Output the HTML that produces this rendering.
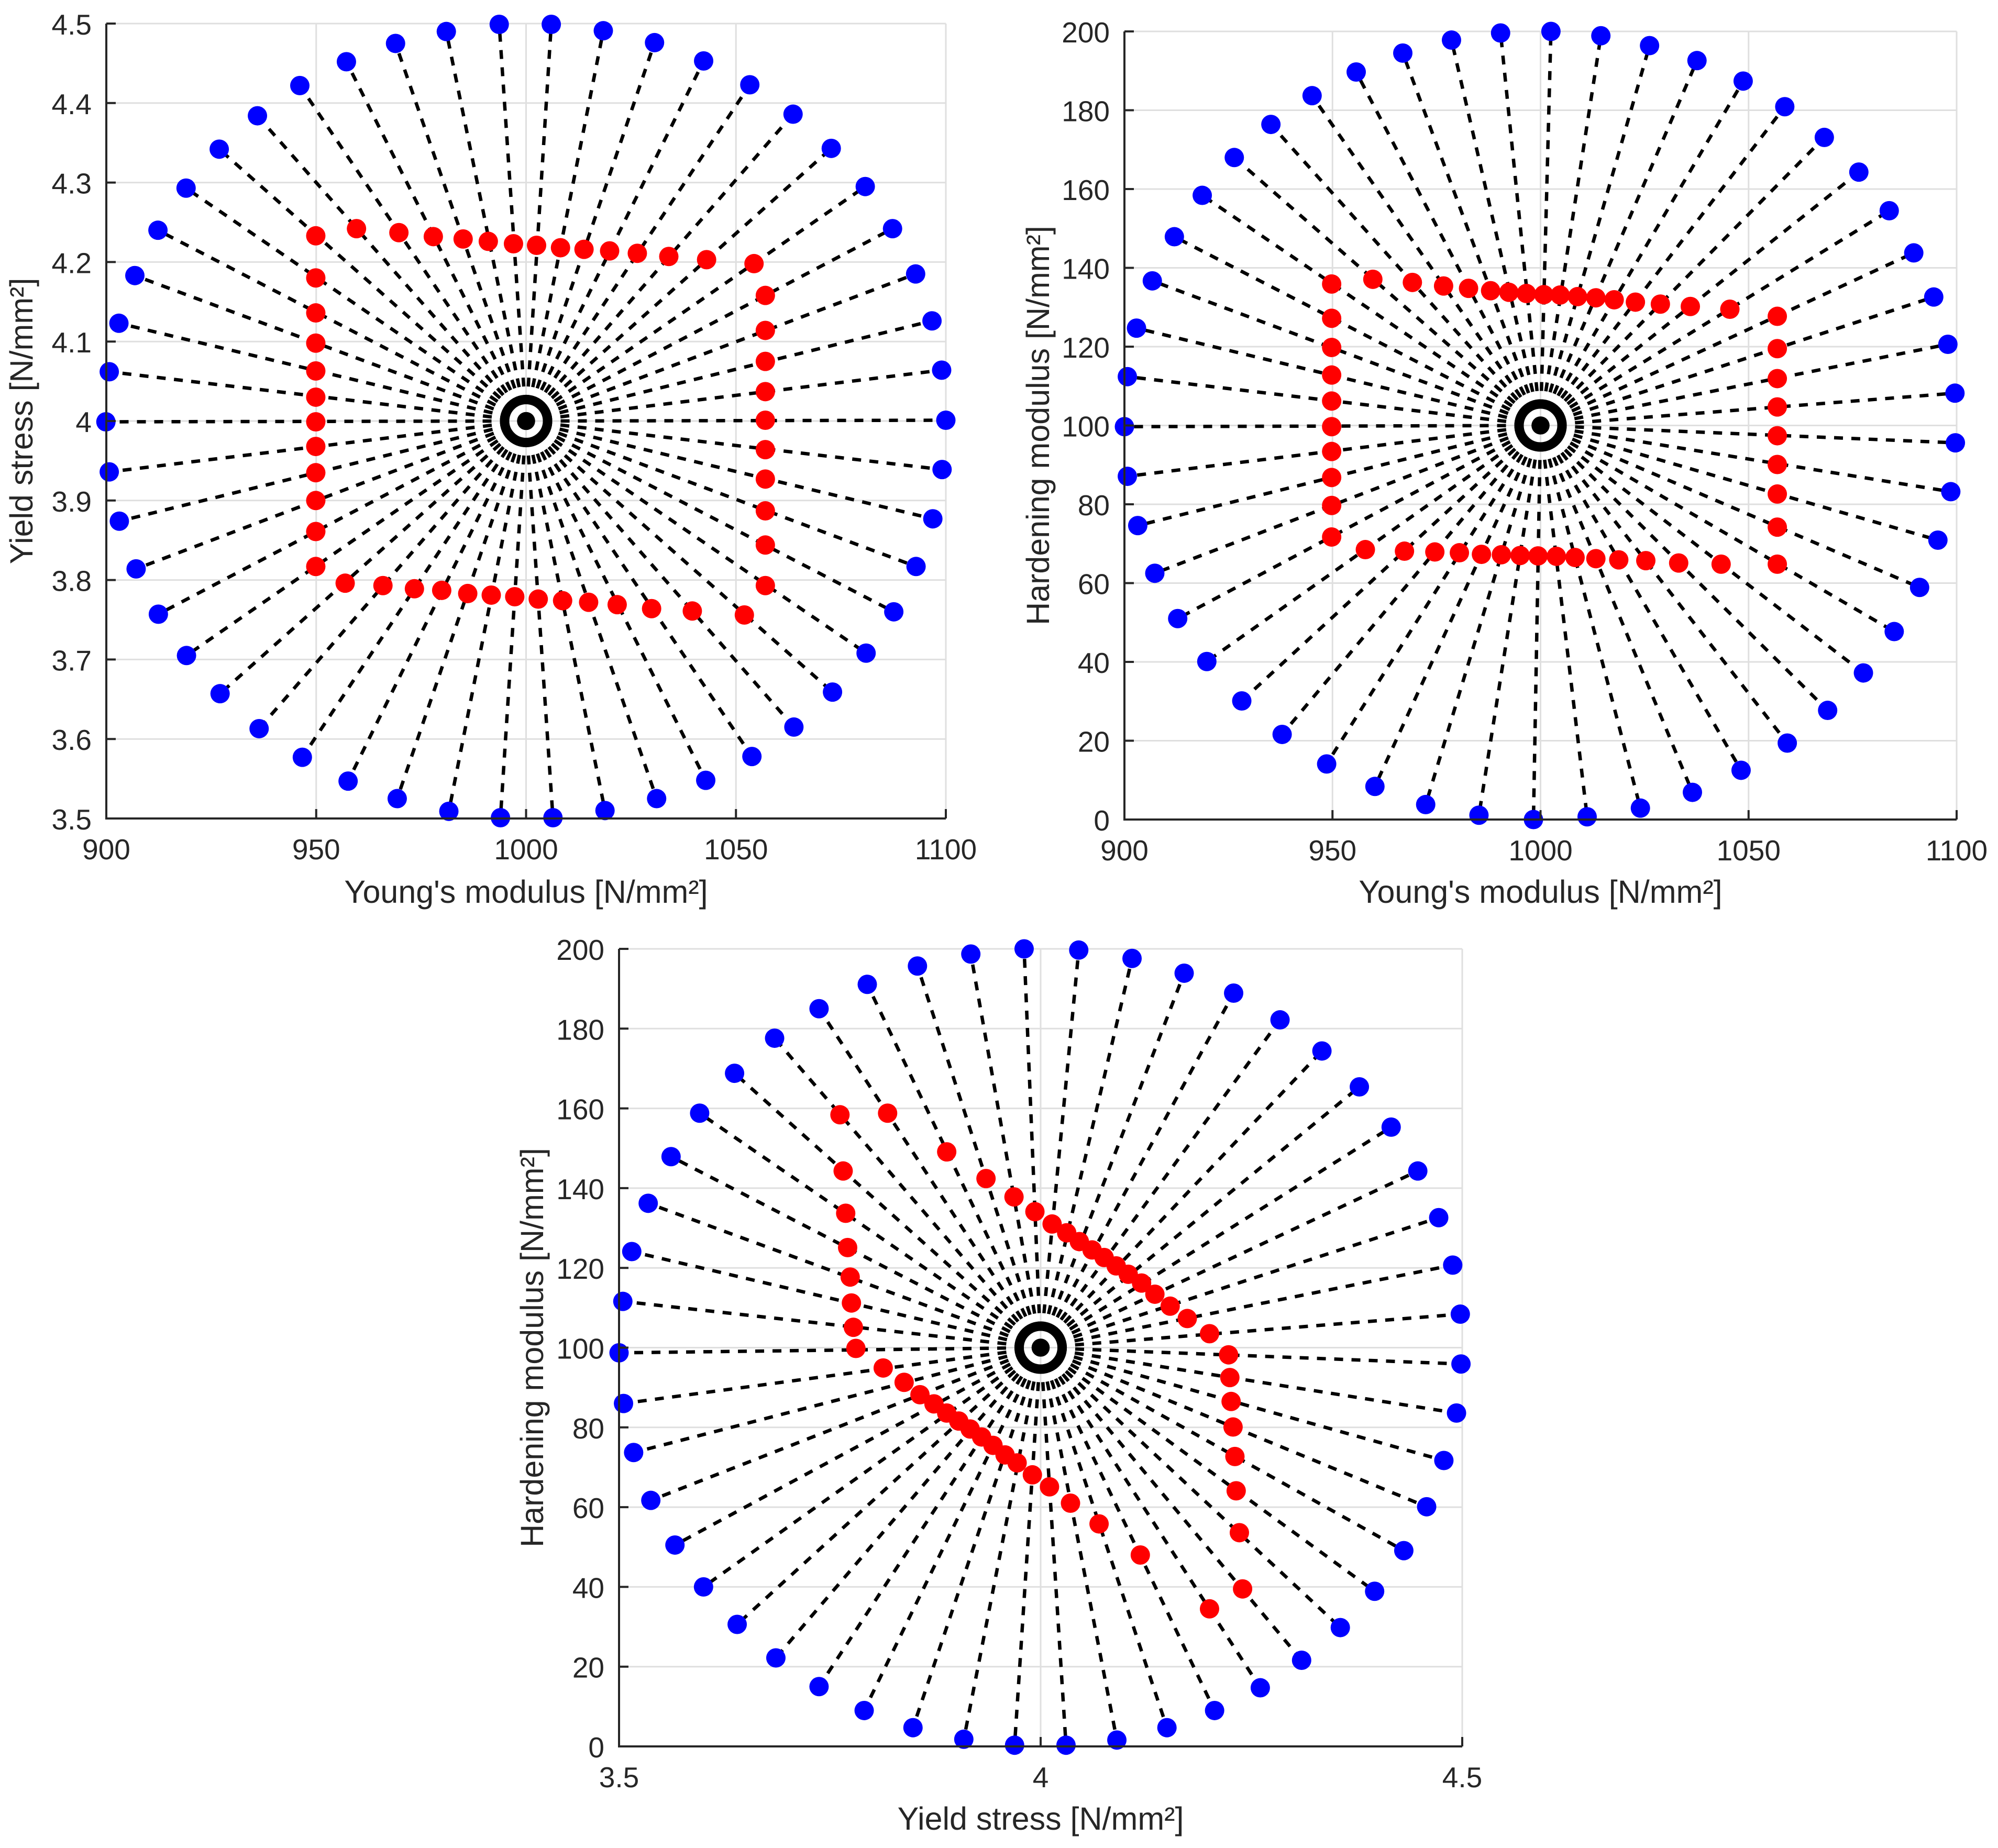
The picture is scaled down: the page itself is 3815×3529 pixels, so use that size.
<!DOCTYPE html>
<html><head><meta charset="utf-8"><title>Parameter rays</title>
<style>
html,body{margin:0;padding:0;background:#fff;}
svg{display:block;}
text{font-family:"Liberation Sans",Arial,sans-serif;fill:#262626;}
</style></head>
<body>
<svg id="fig" width="3815" height="3529" viewBox="0 0 3815 3529" xmlns="http://www.w3.org/2000/svg"></svg>
<script>
// ---------- Plot 1: Young's modulus vs Yield stress ----------
const p1BlueX = [1100.0,1099.0,1096.7,1092.8,1087.3,1080.8,1072.7,1063.6,1053.3,1042.3,1030.6,1018.4,1006.0,993.6,981.0,968.9,957.2,946.1,936.0,926.9,919.0,912.3,906.8,903.0,900.7,899.9,900.7,903.1,907.1,912.4,919.1,927.1,936.4,946.7,957.6,969.3,981.6,993.9,1006.4,1018.8,1031.1,1042.8,1053.8,1063.8,1073.0,1081.0,1087.6,1092.9,1096.9,1099.1];
const p1BlueY = [4.001,4.064,4.126,4.185,4.242,4.295,4.343,4.386,4.423,4.453,4.476,4.491,4.499,4.499,4.490,4.475,4.452,4.422,4.384,4.342,4.293,4.240,4.183,4.123,4.062,3.999,3.936,3.874,3.814,3.757,3.705,3.657,3.613,3.577,3.547,3.525,3.509,3.501,3.501,3.510,3.525,3.548,3.578,3.615,3.659,3.708,3.760,3.817,3.877,3.939];
const p1RedX = [949.9,959.6,969.7,977.9,985.0,991.0,997.0,1002.5,1008.2,1013.8,1019.9,1026.5,1034.0,1043.0,1054.3,
  949.9,949.9,949.9,949.9,949.9,949.9,949.9,949.9,949.9,949.9,949.9,
  956.9,965.9,973.4,979.9,986.1,991.7,997.3,1002.9,1008.7,1014.9,1021.7,1029.9,1039.6,1052.0,
  1057.0,1057.0,1057.0,1057.0,1057.0,1057.0,1057.0,1057.0,1057.0,1057.0];
const p1RedY = [4.233,4.242,4.237,4.232,4.229,4.226,4.223,4.221,4.218,4.216,4.214,4.211,4.207,4.203,4.198,
  4.180,4.136,4.098,4.063,4.030,3.999,3.968,3.935,3.900,3.861,3.817,
  3.796,3.793,3.789,3.787,3.783,3.781,3.779,3.776,3.774,3.772,3.769,3.764,3.761,3.756,
  4.158,4.114,4.075,4.037,4.001,3.964,3.927,3.887,3.844,3.793];
const p1Center = [1000, 4];
const p1XTicks = [900,950,1000,1050,1100];
const p1XTickLabels = ["900","950","1000","1050","1100"];
const p1YTicks = [3.5,3.6,3.7,3.8,3.9,4.0,4.1,4.2,4.3,4.4,4.5];
const p1YTickLabels = ["3.5","3.6","3.7","3.8","3.9","4","4.1","4.2","4.3","4.4","4.5"];

// ---------- Plot 2: Young's modulus vs Hardening modulus ----------
const p2BlueX = [900,900.7,902.9,906.7,912.0,918.7,926.4,935.2,945.1,955.7,966.9,978.6,990.4,1002.5,1014.5,1026.2,1037.6,1048.7,1058.7,1068.2,1076.5,1083.8,1089.7,1094.5,1097.9,1099.6,1099.7,1098.6,1095.5,1091.1,1085.0,1077.6,1069.0,1059.3,1048.2,1036.5,1024.0,1011.2,998.3,985.2,972.4,960.2,948.6,937.9,928.2,919.8,912.8,907.3,903.2,900.7];
const p2BlueY = [99.7,112.4,124.7,136.7,147.9,158.4,168.0,176.4,183.7,189.7,194.5,197.8,199.6,200,198.9,196.4,192.6,187.4,180.9,173.1,164.3,154.5,143.8,132.6,120.6,108.2,95.6,83.2,70.9,58.9,47.7,37.2,27.7,19.4,12.5,6.9,2.9,0.7,0,1.1,3.8,8.4,14.1,21.6,30.1,40.1,51.0,62.5,74.6,87.1];
const p2RedX = [949.8,959.7,969.2,976.7,982.7,988.0,992.4,996.6,1000.8,1004.7,1008.9,1013.3,1017.7,1022.8,1028.8,1036.0,1045.5,1056.9,
  949.8,949.8,949.8,949.8,949.8,949.8,949.8,949.8,949.8,
  1056.9,1056.9,1056.9,1056.9,1056.9,1056.9,1056.9,1056.9,
  957.9,967.3,974.6,980.5,985.8,990.6,995.1,999.4,1003.8,1008.3,1013.3,1018.8,1025.3,1033.2,1043.4];
const p2RedY = [135.9,137.1,136.3,135.4,134.8,134.2,133.8,133.5,133.2,133.1,132.7,132.4,131.9,131.3,130.8,130.2,129.5,127.7,
  127.2,119.8,112.8,106.2,99.7,93.4,86.8,79.7,71.7,
  119.5,111.9,104.7,97.4,90.1,82.6,74.2,64.8,
  68.5,68.1,67.9,67.7,67.3,67.2,67.0,66.9,66.8,66.5,66.2,65.9,65.7,65.1,64.8];
const p2Center = [1000, 100];
const p2XTicks = [900,950,1000,1050,1100];
const p2XTickLabels = ["900","950","1000","1050","1100"];
const p2YTicks = [0,20,40,60,80,100,120,140,160,180,200];
const p2YTickLabels = ["0","20","40","60","80","100","120","140","160","180","200"];

// ---------- Plot 3: Yield stress vs Hardening modulus ----------
const p3BlueX = [3.500,3.5045,3.5151,3.5346,3.5617,3.5956,3.6370,3.6845,3.7372,3.7944,3.8539,3.9172,3.9804,4.0452,4.1084,4.1702,4.2289,4.2839,4.3336,4.3780,4.4157,4.4473,4.4721,4.4887,4.4977,4.4985,4.4932,4.4782,4.4578,4.4307,4.3961,4.3554,4.3095,4.2605,4.2063,4.1498,4.0904,4.0301,3.9691,3.9089,3.8486,3.7907,3.7372,3.6860,3.6401,3.6002,3.5663,3.5377,3.5173,3.5053];
const p3BlueY = [98.7,111.6,124.1,136.2,147.9,158.8,168.8,177.6,185.0,191.1,195.7,198.7,200,199.7,197.6,193.9,188.9,182.2,174.4,165.4,155.3,144.3,132.6,120.7,108.4,95.9,83.6,71.7,60.1,49.1,38.9,29.8,21.6,14.7,9.0,4.7,1.6,0.3,0.3,1.8,4.7,9.0,15.0,22.2,30.6,40.0,50.5,61.7,73.7,86.0];
const p3RedX = [3.7620,3.8185,3.8886,3.9352,3.9684,3.9932,4.0136,4.0309,4.0459,4.0610,4.0753,4.0896,4.1039,4.1197,4.1355,4.1536,4.1739,4.2003,
  4.2229,4.2244,4.2259,4.2282,4.2304,4.2319,4.2357,4.2395,
  4.2003,4.1182,4.0693,4.0354,4.0105,3.9902,3.9721,3.9578,3.9435,3.9300,3.9164,3.9029,3.8886,3.8735,3.8569,3.8381,3.8133,
  3.7809,3.7779,3.7756,3.7741,3.7711,3.7688,3.7658];
const p3RedY = [158.4,158.8,149.1,142.4,137.8,134.1,131.0,128.8,126.6,124.5,122.6,120.5,118.4,116.2,113.4,110.4,107.3,103.5,
  98.2,92.5,86.5,80.1,72.7,64.1,53.6,39.5,
  34.5,48.0,55.8,61.0,65.1,68.1,71.1,73.1,75.5,77.6,79.6,81.6,83.6,85.9,88.2,91.3,94.9,
  99.8,105.1,111.2,117.7,125.1,133.7,144.3];
const p3Center = [4, 100];
const p3XTicks = [3.5,4,4.5];
const p3XTickLabels = ["3.5","4","4.5"];
const p3YTicks = [0,20,40,60,80,100,120,140,160,180,200];
const p3YTickLabels = ["0","20","40","60","80","100","120","140","160","180","200"];

const NS = "http://www.w3.org/2000/svg";
const fig = document.getElementById('fig');
function mk(tag, attrs, parent){
  const e = document.createElementNS(NS, tag);
  for (const k in attrs) e.setAttribute(k, attrs[k]);
  (parent||fig).appendChild(e);
  return e;
}

function drawPlot(cfg){
  const g = mk('g', {});
  
  
  const sx = v => cfg.x0 + (v - cfg.xmin)/(cfg.xmax - cfg.xmin)*(cfg.x1 - cfg.x0);
  const sy = v => cfg.y1 - (v - cfg.ymin)/(cfg.ymax - cfg.ymin)*(cfg.y1 - cfg.y0);
  cfg.xt.forEach((t,i)=>{
    const l = mk('line',{x1:sx(t),x2:sx(t),y1:cfg.y0,y2:cfg.y1,stroke:'#dfdfdf','stroke-width':3},g);
    
    
  });
  cfg.yt.forEach((t,i)=>{
    const l = mk('line',{x1:cfg.x0,x2:cfg.x1,y1:sy(t),y2:sy(t),stroke:'#dfdfdf','stroke-width':3},g);
    
    
  });
  const [cx, cy] = [sx(cfg.center[0]), sy(cfg.center[1])];
  cfg.bx.forEach((v,i)=>{
    const l = mk('line',{x1:cx,y1:cy,x2:sx(v),y2:sy(cfg.by[i]),stroke:'#000','stroke-width':6.5,'stroke-dasharray':'17 16'},g);
    
    
  });
  cfg.bx.forEach((v,i)=>{
    const c = mk('circle',{cx:sx(v),cy:sy(cfg.by[i]),r:18.5,fill:'#0000ff'},g);
    
    
  });
  cfg.rx.forEach((v,i)=>{
    const c = mk('circle',{cx:sx(v),cy:sy(cfg.ry[i]),r:18.5,fill:'#ff0000'},g);
    
    
  });
  const ring = mk('circle',{cx:cx,cy:cy,r:41,fill:'none',stroke:'#000','stroke-width':18},g);
  
  
  const dot = mk('circle',{cx:cx,cy:cy,r:17,fill:'#000'},g);
  
  
  const ax = mk('path',{d:`M${cfg.x0},${cfg.y0} V${cfg.y1} H${cfg.x1}`,fill:'none',stroke:'#262626','stroke-width':4},g);
  
  
  cfg.xt.forEach((t,i)=>{
    const tk = mk('line',{x1:sx(t),x2:sx(t),y1:cfg.y1,y2:cfg.y1-18,stroke:'#262626','stroke-width':4},g);
    
    
    const tx = mk('text',{x:sx(t),y:cfg.y1+78,'text-anchor':'middle','font-size':55},g);
    tx.textContent = cfg.xl[i];
    
    
  });
  cfg.yt.forEach((t,i)=>{
    const tk = mk('line',{x1:cfg.x0,x2:cfg.x0+18,y1:sy(t),y2:sy(t),stroke:'#262626','stroke-width':4},g);
    
    
    const tx = mk('text',{x:cfg.x0-28,y:sy(t)+21,'text-anchor':'end','font-size':55},g);
    tx.textContent = cfg.yl[i];
    
    
  });
  const xt = mk('text',{x:(cfg.x0+cfg.x1)/2,y:cfg.xlabY,'text-anchor':'middle','font-size':61},g);
  xt.textContent = cfg.xlab;
  
  
  const ym = (cfg.y0+cfg.y1)/2;
  const yt = mk('text',{x:cfg.ylabX,y:ym,'text-anchor':'middle','font-size':61,transform:`rotate(-90 ${cfg.ylabX} ${ym})`},g);
  yt.textContent = cfg.ylab;
  
  
}

drawPlot({name:'youngs-vs-yield-plot',x0:203,x1:1806,y0:45,y1:1563,xmin:900,xmax:1100,ymin:3.5,ymax:4.5,
  xt:p1XTicks,xl:p1XTickLabels,yt:p1YTicks,yl:p1YTickLabels,bx:p1BlueX,by:p1BlueY,rx:p1RedX,ry:p1RedY,center:p1Center,
  xlab:"Young's modulus [N/mm²]",ylab:"Yield stress  [N/mm²]",xlabY:1724,ylabX:62});
drawPlot({name:'youngs-vs-hardening-plot',x0:2147,x1:3736,y0:60,y1:1565,xmin:900,xmax:1100,ymin:0,ymax:200,
  xt:p2XTicks,xl:p2XTickLabels,yt:p2YTicks,yl:p2YTickLabels,bx:p2BlueX,by:p2BlueY,rx:p2RedX,ry:p2RedY,center:p2Center,
  xlab:"Young's modulus [N/mm²]",ylab:"Hardening modulus  [N/mm²]",xlabY:1724,ylabX:2003});
drawPlot({name:'yield-vs-hardening-plot',x0:1182,x1:2792,y0:1812,y1:3335,xmin:3.5,xmax:4.5,ymin:0,ymax:200,
  xt:p3XTicks,xl:p3XTickLabels,yt:p3YTicks,yl:p3YTickLabels,bx:p3BlueX,by:p3BlueY,rx:p3RedX,ry:p3RedY,center:p3Center,
  xlab:"Yield stress [N/mm²]",ylab:"Hardening modulus  [N/mm²]",xlabY:3494,ylabX:1037});
</script>
</body></html>
